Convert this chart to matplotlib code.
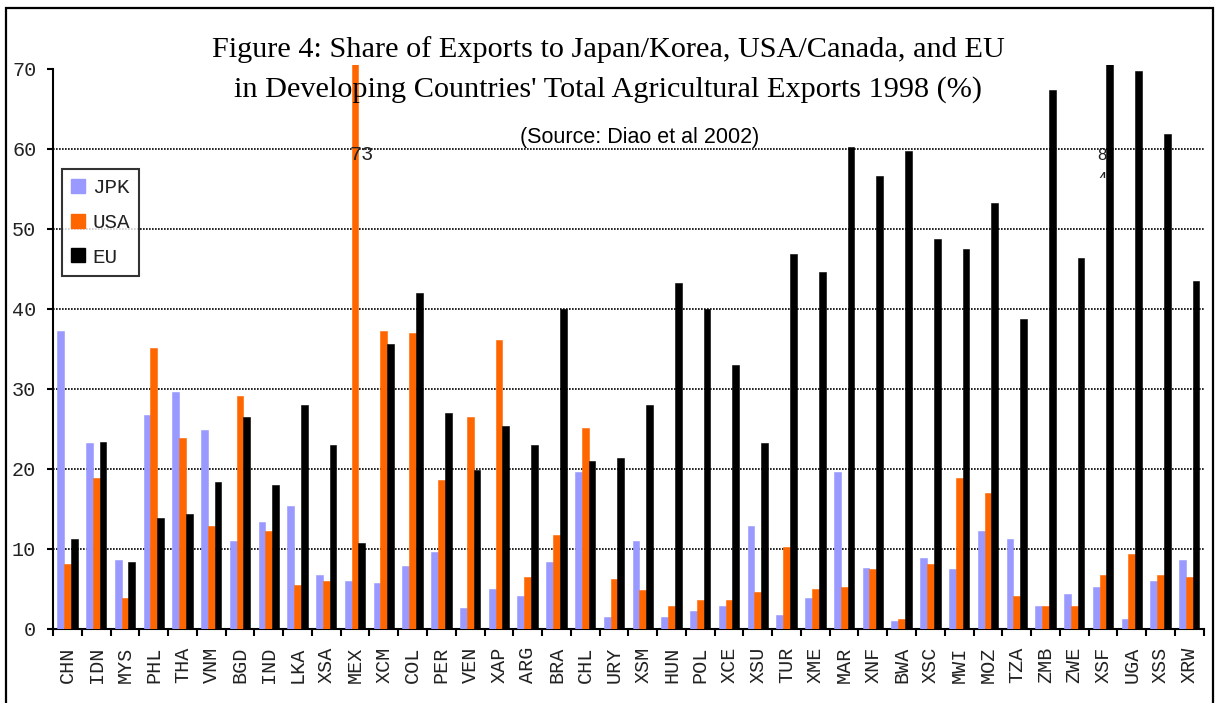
import numpy as np
import matplotlib
matplotlib.use("Agg")
import matplotlib.pyplot as plt
from matplotlib.patches import Patch, Rectangle

countries = ["CHN", "IDN", "MYS", "PHL", "THA", "VNM", "BGD", "IND", "LKA", "XSA",
             "MEX", "XCM", "COL", "PER", "VEN", "XAP", "ARG", "BRA", "CHL", "URY",
             "XSM", "HUN", "POL", "XCE", "XSU", "TUR", "XME", "MAR", "XNF", "BWA",
             "XSC", "MWI", "MOZ", "TZA", "ZMB", "ZWE", "XSF", "UGA", "XSS", "XRW"]

jpk = [37.2, 23.2, 8.6, 26.7, 29.6, 24.8, 11.0, 13.3, 15.3, 6.7,
       6.0, 5.7, 7.8, 9.6, 2.6, 5.0, 4.1, 8.3, 19.6, 1.5,
       11.0, 1.5, 2.2, 2.8, 12.8, 1.7, 3.8, 19.6, 7.6, 1.0,
       8.8, 7.5, 12.2, 11.2, 2.8, 4.3, 5.2, 1.2, 6.0, 8.6]
usa = [8.1, 18.8, 3.8, 35.1, 23.8, 12.8, 29.1, 12.2, 5.5, 6.0,
       73, 37.2, 37.0, 18.6, 26.5, 36.1, 6.5, 11.7, 25.1, 6.2,
       4.8, 2.8, 3.6, 3.6, 4.6, 10.2, 5.0, 5.2, 7.5, 1.2,
       8.1, 18.8, 17.0, 4.1, 2.8, 2.8, 6.7, 9.3, 6.7, 6.5]
eu = [11.2, 23.3, 8.3, 13.8, 14.3, 18.3, 26.5, 18.0, 28.0, 23.0,
      10.7, 35.6, 42.0, 27.0, 19.8, 25.3, 23.0, 40.0, 21.0, 21.3,
      28.0, 43.2, 40.0, 33.0, 23.2, 46.9, 44.6, 60.2, 56.6, 59.7,
      48.7, 47.5, 53.2, 38.7, 67.3, 46.3, 84, 69.7, 61.8, 43.5]

series = [("JPK", jpk, "#9999FF"), ("USA", usa, "#FF6600"), ("EU", eu, "#000000")]

W, H = 1217, 703
fig = plt.figure(figsize=(W / 100, H / 100), dpi=100)
mono = "Liberation Mono"
txt_col = "#222222"

# axes box in pixels: x 53..1203.7, y(0)=628.7, 8 px per unit
ytop = 70.45
ax = fig.add_axes([53 / W, 1 - 628.7 / H, 1150.7 / W, 8.0 * ytop / H])

x = np.arange(len(countries))
bw = 0.236
for k, (name, vals, col) in enumerate(series):
    ax.bar(x + (k - 1) * bw, vals, width=bw, color=col, edgecolor=col,
           linewidth=0.4, zorder=3)

ax.set_xlim(-0.5, len(countries) - 0.5)
ax.set_ylim(0, ytop)
ax.set_yticks(range(0, 71, 10))
ax.set_xticks(x)
ax.set_xticklabels(countries, rotation=90, fontfamily=mono, fontsize=14.5,
                   color=txt_col)
ax.set_xticks(np.arange(-0.5, len(countries)), minor=True)
ax.tick_params(axis="x", which="major", length=0, pad=13)
ax.tick_params(axis="x", which="minor", length=5, width=1.5, direction="out")
ax.tick_params(axis="y", length=4, width=1.5, direction="out", pad=8)
for t in ax.get_yticklabels():
    t.set_fontfamily(mono)
    t.set_fontsize(14.5)
    t.set_color(txt_col)

ax.grid(axis="y", color="black", linestyle=(0, (1.0, 0.8)), linewidth=1.2, zorder=1)
gl = ax.get_ygridlines()
gl[0].set_visible(False)
gl[-1].set_visible(False)

for s in ["top", "right"]:
    ax.spines[s].set_visible(False)
for s in ["left", "bottom"]:
    ax.spines[s].set_linewidth(1.5)
ax.spines["left"].set_bounds(0, 70)

# value labels for the bars running off the scale
ax.text(9.82, 58.6, f"{usa[10]:.0f}", fontfamily=mono, fontsize=14.5,
        color=txt_col, ha="left", va="baseline", zorder=4)
eu_lbl = f"{eu[36]:.0f}"
ax.text(35.96, 58.6, eu_lbl[0], fontfamily="Liberation Sans", fontsize=12,
        color=txt_col, ha="center", va="baseline", zorder=4)
t2 = ax.text(35.96, 55.6, eu_lbl[1], fontfamily="Liberation Sans", fontsize=12,
             color=txt_col, ha="center", va="baseline", zorder=4, clip_on=True)
t2.set_clip_path(Rectangle((35.0, 56.3), 2.0, 10.0, transform=ax.transData))

# titles
fig.text(0.5, 1 - 56.7 / H,
         "Figure 4: Share of Exports to Japan/Korea, USA/Canada, and EU",
         fontfamily="Liberation Serif", fontsize=21.8, ha="center", va="baseline")
fig.text(0.5, 1 - 96.7 / H,
         "in Developing Countries' Total Agricultural Exports 1998 (%)",
         fontfamily="Liberation Serif", fontsize=21.8, ha="center", va="baseline")
fig.text(639.5 / W, 1 - 142.7 / H, "(Source: Diao et al 2002)",
         fontfamily="Liberation Sans", fontsize=15.5, ha="center", va="baseline")

handles = [Patch(facecolor=c, edgecolor=c, label=n) for n, _, c in series]
leg = fig.legend(handles=handles, loc="upper left",
                 bbox_to_anchor=(62 / W, 1 - 169 / H), bbox_transform=fig.transFigure,
                 borderaxespad=0, frameon=True, fancybox=False,
                 fontsize=15, handlelength=0.65,
                 handleheight=0.65, handletextpad=0.35, labelspacing=0.75,
                 borderpad=0.45)
leg.get_frame().set_edgecolor("black")
leg.get_frame().set_linewidth(1.5)
for t in leg.get_texts():
    t.set_fontfamily(mono)
    t.set_color(txt_col)

# outer frame of the chart area
fig.patches.append(Rectangle((5.7 / W, -0.05), (1213 - 5.7) / W, 1.05 - 8.3 / H,
                             transform=fig.transFigure, fill=False,
                             edgecolor="black", linewidth=1.6))

fig.savefig("out.png", dpi=100)
